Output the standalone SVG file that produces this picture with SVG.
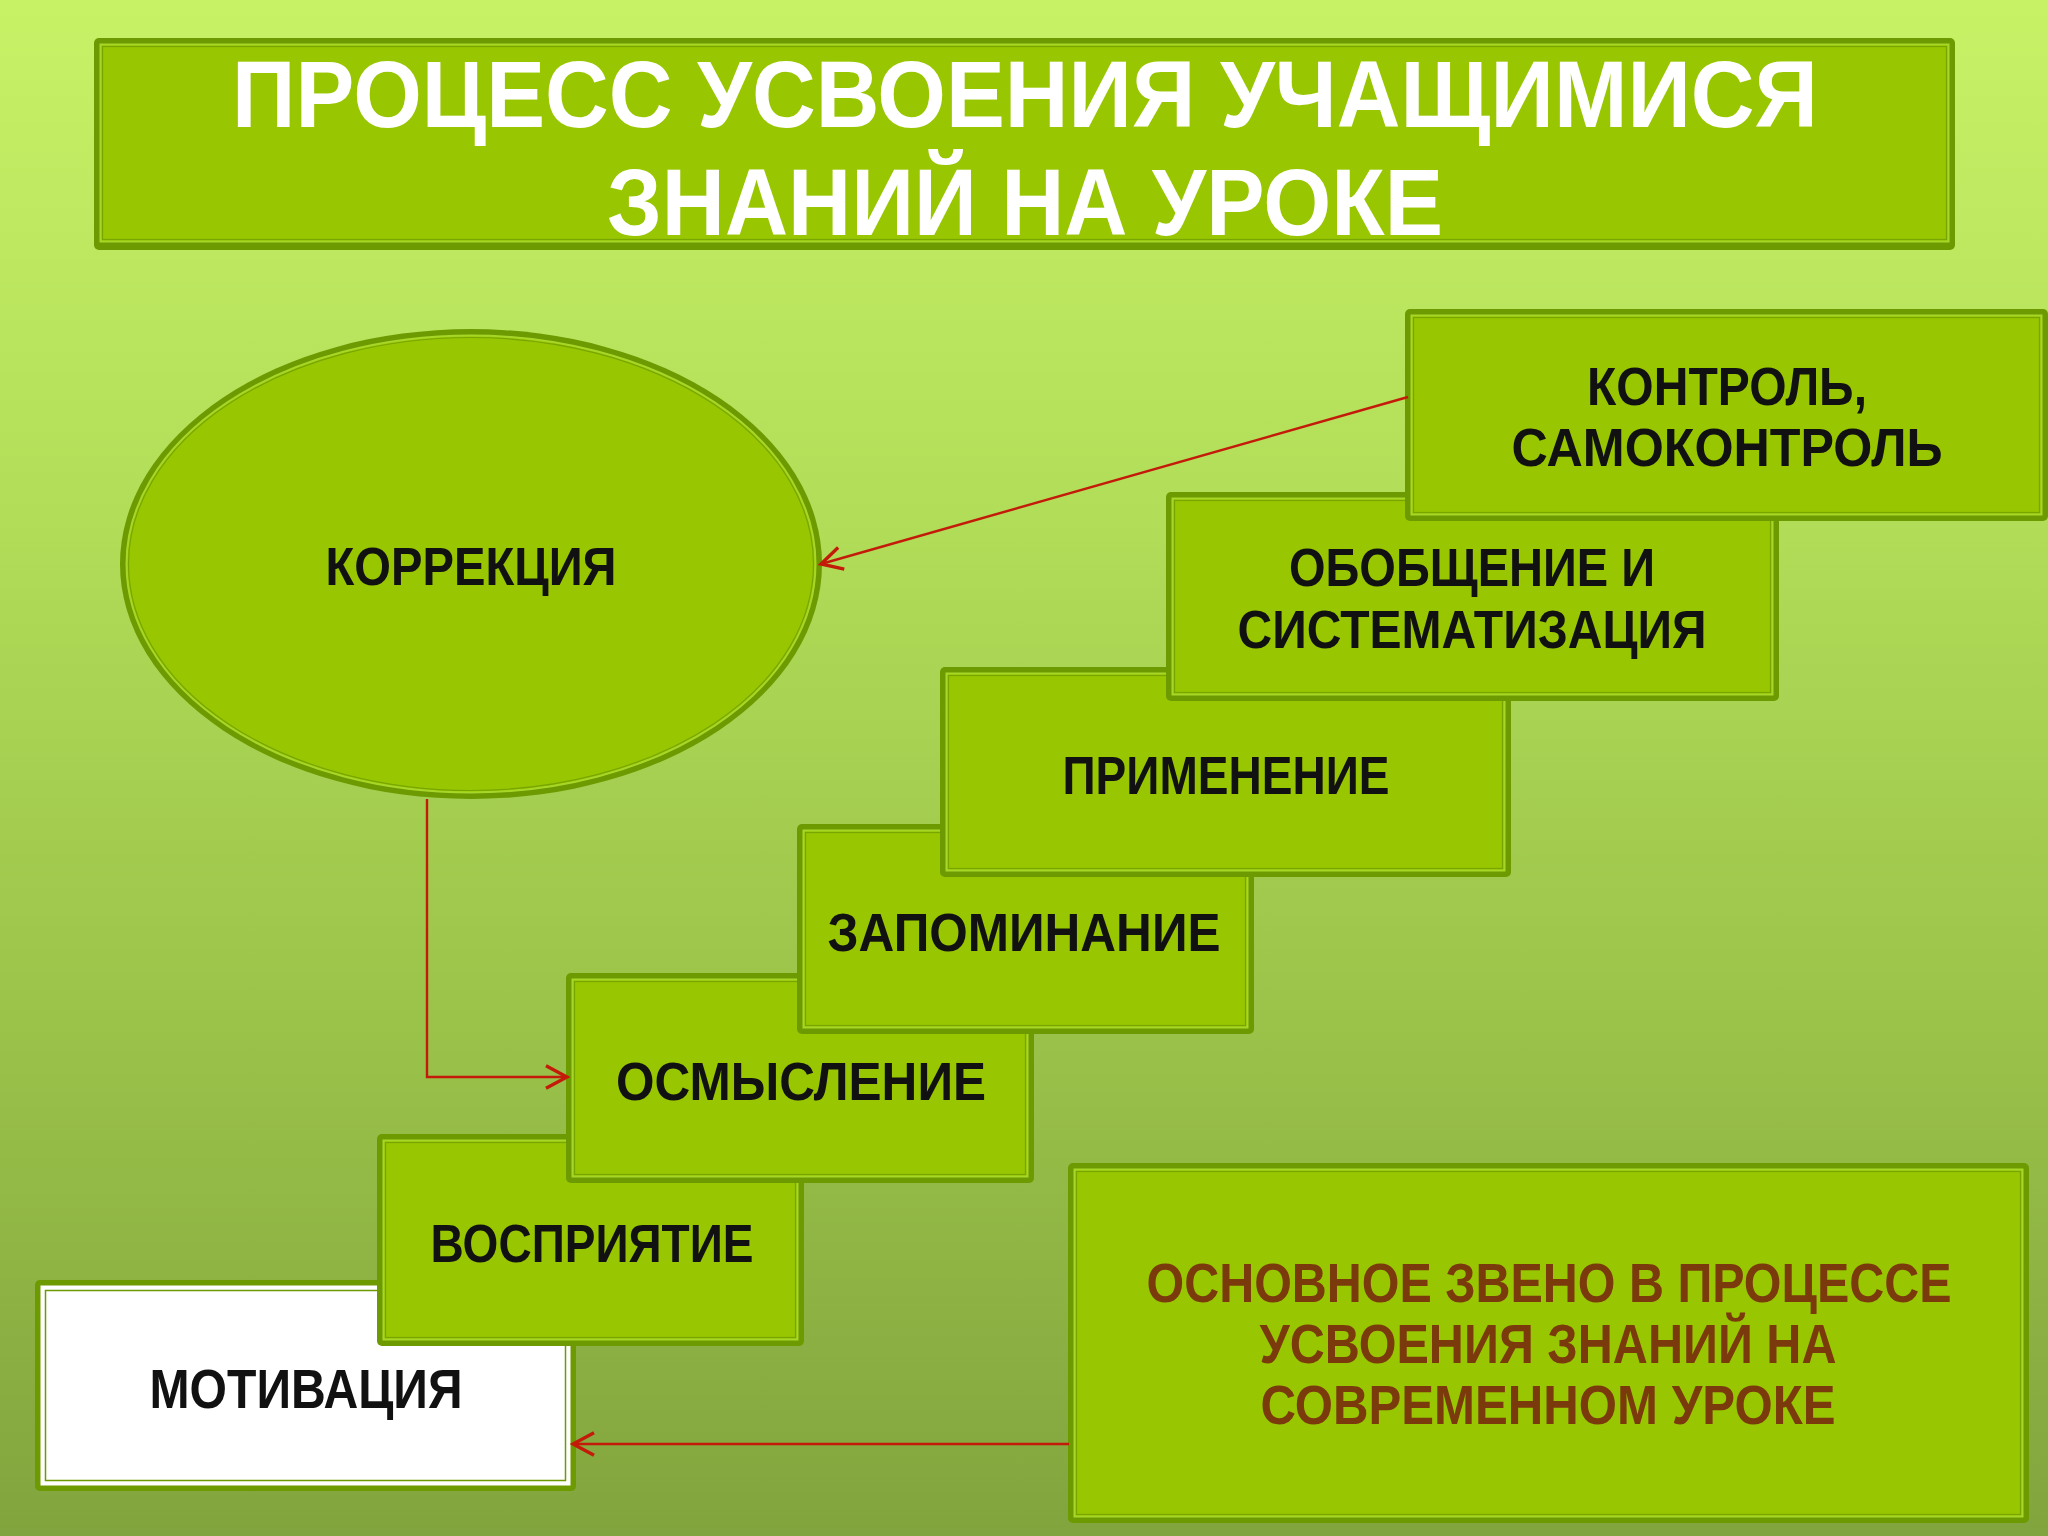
<svg xmlns="http://www.w3.org/2000/svg" width="2048" height="1536" viewBox="0 0 2048 1536">
  <defs>
    <linearGradient id="bg" x1="0" y1="0" x2="0" y2="1">
      <stop offset="0" stop-color="#c8f266"/>
      <stop offset="0.35" stop-color="#b0dc58"/>
      <stop offset="0.65" stop-color="#9cc44a"/>
      <stop offset="1" stop-color="#82a43e"/>
    </linearGradient>
    <marker id="arr" viewBox="0 0 20 20" refX="18" refY="10" markerWidth="28" markerHeight="28" markerUnits="userSpaceOnUse" orient="auto">
      <path d="M3,2 L18,10 L3,18" fill="none" stroke="#c41a0a" stroke-width="2.4"/>
    </marker>
    <style>
      .bo { fill: #6c9a00; }
      .bf { fill: #98c600; stroke: #a8d628; stroke-width: 2; }
      .bl { fill: none; stroke: #78a600; stroke-width: 1.2; }
      .wf { fill: #ffffff; stroke: #ffffff; stroke-width: 2; }
      .wl { fill: none; stroke: #6c9a00; stroke-width: 1.5; }
      .t { font-family: "Liberation Sans", "DejaVu Sans", sans-serif; font-weight: bold; fill: #111111; text-anchor: middle; }
      .title { font-family: "Liberation Sans", "DejaVu Sans", sans-serif; font-weight: bold; fill: #ffffff; text-anchor: middle; font-size: 95px; }
      .br { fill: #7a3a0c; }
      .con { fill: none; stroke: #c41a0a; stroke-width: 2.4; }
    </style>
  </defs>

  <rect x="0" y="0" width="2048" height="1536" fill="url(#bg)"/>

  <g id="title">
    <rect class="bo" x="94" y="38" width="1861" height="212" rx="5"/>
    <rect class="bf" x="100.5" y="44.5" width="1848" height="197"/>
    <rect class="bl" x="102.5" y="46.5" width="1844" height="193"/>
    <text class="title" x="1025" y="127" textLength="1586" lengthAdjust="spacingAndGlyphs">ПРОЦЕСС УСВОЕНИЯ УЧАЩИМИСЯ</text>
    <text class="title" x="1025" y="235" textLength="836" lengthAdjust="spacingAndGlyphs">ЗНАНИЙ НА УРОКЕ</text>
  </g>

  <g id="korrekciya">
    <ellipse class="bo" cx="471" cy="564" rx="351" ry="235"/>
    <ellipse class="bf" cx="471" cy="564" rx="344.5" ry="228.5"/>
    <ellipse class="bl" cx="471" cy="564" rx="342.5" ry="226.5"/>
    <text class="t" x="471" y="585" font-size="54" textLength="291" lengthAdjust="spacingAndGlyphs">КОРРЕКЦИЯ</text>
  </g>

  <g id="motivaciya">
    <rect class="bo" x="35" y="1280" width="541" height="211" rx="5"/>
    <rect class="wf" x="41.5" y="1286.5" width="528" height="198"/>
    <rect class="wl" x="45.5" y="1290.5" width="520" height="190"/>
    <text class="t" x="306" y="1408" font-size="56" textLength="313" lengthAdjust="spacingAndGlyphs">МОТИВАЦИЯ</text>
  </g>

  <g id="vospriyatie">
    <rect class="bo" x="377" y="1134" width="427" height="212" rx="5"/>
    <rect class="bf" x="383.5" y="1140.5" width="414" height="199"/>
    <rect class="bl" x="385.5" y="1142.5" width="410" height="195"/>
    <text class="t" x="592" y="1262" font-size="54" textLength="323" lengthAdjust="spacingAndGlyphs">ВОСПРИЯТИЕ</text>
  </g>

  <g id="osmyslenie">
    <rect class="bo" x="566" y="973" width="468" height="210" rx="5"/>
    <rect class="bf" x="572.5" y="979.5" width="455" height="197"/>
    <rect class="bl" x="574.5" y="981.5" width="451" height="193"/>
    <text class="t" x="801" y="1100" font-size="54" textLength="370" lengthAdjust="spacingAndGlyphs">ОСМЫСЛЕНИЕ</text>
  </g>

  <g id="zapominanie">
    <rect class="bo" x="797" y="824" width="457" height="210" rx="5"/>
    <rect class="bf" x="803.5" y="830.5" width="444" height="197"/>
    <rect class="bl" x="805.5" y="832.5" width="440" height="193"/>
    <text class="t" x="1024" y="951" font-size="54" textLength="393" lengthAdjust="spacingAndGlyphs">ЗАПОМИНАНИЕ</text>
  </g>

  <g id="primenenie">
    <rect class="bo" x="940" y="667" width="571" height="210" rx="5"/>
    <rect class="bf" x="946.5" y="673.5" width="558" height="197"/>
    <rect class="bl" x="948.5" y="675.5" width="554" height="193"/>
    <text class="t" x="1226" y="794" font-size="54" textLength="327" lengthAdjust="spacingAndGlyphs">ПРИМЕНЕНИЕ</text>
  </g>

  <g id="obobshchenie">
    <rect class="bo" x="1166" y="492" width="613" height="209" rx="5"/>
    <rect class="bf" x="1172.5" y="498.5" width="600" height="196"/>
    <rect class="bl" x="1174.5" y="500.5" width="596" height="192"/>
    <text class="t" x="1472" y="586" font-size="54" textLength="366" lengthAdjust="spacingAndGlyphs">ОБОБЩЕНИЕ И</text>
    <text class="t" x="1472" y="648" font-size="54" textLength="469" lengthAdjust="spacingAndGlyphs">СИСТЕМАТИЗАЦИЯ</text>
  </g>

  <g id="kontrol">
    <rect class="bo" x="1405" y="309" width="643" height="212" rx="5"/>
    <rect class="bf" x="1411.5" y="315.5" width="630" height="199"/>
    <rect class="bl" x="1413.5" y="317.5" width="626" height="195"/>
    <text class="t" x="1727" y="405" font-size="54" textLength="280" lengthAdjust="spacingAndGlyphs">КОНТРОЛЬ,</text>
    <text class="t" x="1727" y="466" font-size="54" textLength="431" lengthAdjust="spacingAndGlyphs">САМОКОНТРОЛЬ</text>
  </g>

  <g id="osnovnoe">
    <rect class="bo" x="1068" y="1163" width="961" height="360" rx="5"/>
    <rect class="bf" x="1074.5" y="1169.5" width="948" height="347"/>
    <rect class="bl" x="1076.5" y="1171.5" width="944" height="343"/>
    <text class="t br" x="1549" y="1302" font-size="56" textLength="805" lengthAdjust="spacingAndGlyphs">ОСНОВНОЕ ЗВЕНО В ПРОЦЕССЕ</text>
    <text class="t br" x="1548" y="1363" font-size="56" textLength="577" lengthAdjust="spacingAndGlyphs">УСВОЕНИЯ ЗНАНИЙ НА</text>
    <text class="t br" x="1548" y="1424" font-size="56" textLength="575" lengthAdjust="spacingAndGlyphs">СОВРЕМЕННОМ УРОКЕ</text>
  </g>

  <g id="connectors">
    <path class="con" d="M1408,397 L821,564" marker-end="url(#arr)"/>
    <path class="con" d="M427,799 V1077 H567" marker-end="url(#arr)"/>
    <path class="con" d="M1069,1444 H573" marker-end="url(#arr)"/>
  </g>
</svg>
